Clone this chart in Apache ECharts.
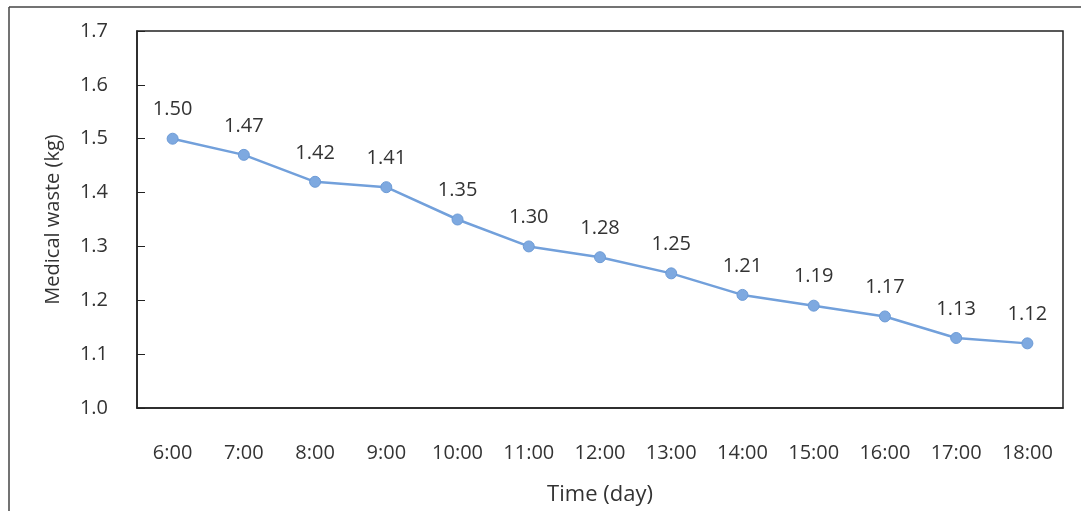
<!DOCTYPE html>
<html><head><meta charset="utf-8">
<script src="https://cdn.jsdelivr.net/npm/echarts@6/dist/echarts.min.js"></script>
<style>html,body{margin:0;padding:0;background:#fff}#c{width:1081px;height:511px}</style>
</head><body><div id="c"></div>
<script>
const categories = ['6:00','7:00','8:00','9:00','10:00','11:00','12:00','13:00','14:00','15:00','16:00','17:00','18:00'];
const wasteValues = [1.50,1.47,1.42,1.41,1.35,1.30,1.28,1.25,1.21,1.19,1.17,1.13,1.12];
const yTicks = {min:1.0, max:1.7, interval:0.1};

const chart = echarts.init(document.getElementById('c'));
const font = 'Open Sans';
const txt = '#333';
chart.setOption({
  backgroundColor:'#fff',
  animation:false,
  textStyle:{fontFamily:font},
  grid:{left:137,right:18,top:31,bottom:103,show:true,borderColor:'#222',borderWidth:1.5,backgroundColor:'transparent'},
  graphic:[
    {type:'line',shape:{x1:9,y1:7,x2:1081,y2:7},style:{stroke:'#444',lineWidth:1.5}},
    {type:'line',shape:{x1:9,y1:7,x2:9,y2:511},style:{stroke:'#444',lineWidth:1.5}}
  ],
  xAxis:{
    type:'category',data:categories,boundaryGap:true,
    name:'Time (day)',nameLocation:'middle',nameGap:76,
    nameTextStyle:{fontSize:22,color:txt,fontFamily:font},
    axisLine:{lineStyle:{color:'#222',width:1.5}},
    axisTick:{inside:true,length:6,lineStyle:{color:'#222'}},
    axisLabel:{margin:35,fontSize:20,color:txt,fontFamily:font},
    splitLine:{show:false}
  },
  yAxis:{
    type:'value',min:yTicks.min,max:yTicks.max,interval:yTicks.interval,
    name:'Medical waste (kg)',nameLocation:'middle',nameGap:74,nameRotate:90,
    nameTextStyle:{fontSize:20,color:txt,fontFamily:font},
    axisLine:{show:true,lineStyle:{color:'#222',width:1.5}},
    axisTick:{show:true,inside:true,length:8,lineStyle:{color:'#222'}},
    axisLabel:{margin:29,fontSize:20,color:txt,fontFamily:font,formatter:v=>v.toFixed(1)},
    splitLine:{show:false}
  },
  series:[{
    type:'line',data:wasteValues,
    symbol:'circle',symbolSize:11,
    lineStyle:{color:'#72a0db',width:2.5},
    itemStyle:{color:'#7ea9e0',borderColor:'#6d9bd6',borderWidth:1},
    label:{show:true,position:'top',distance:13,fontSize:20,color:txt,fontFamily:font,formatter:p=>p.value.toFixed(2)}
  }]
});
</script></body></html>
